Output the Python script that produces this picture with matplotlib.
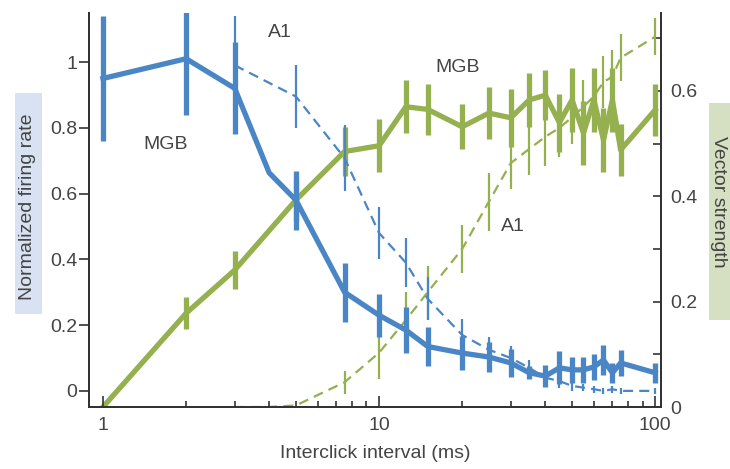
import numpy as np
import matplotlib
matplotlib.use("Agg")
import matplotlib.pyplot as plt
from matplotlib.patches import Rectangle
from matplotlib.ticker import FixedLocator, NullFormatter

# interclick interval (ms)
x_mgb_rate = [1, 2, 3, 4, 5, 7.5, 10, 12.5, 15, 20, 25, 30, 35, 40, 45, 50, 55, 60, 65, 70, 75, 100]
mgb_rate = [0.95, 1.01, 0.92, 0.663, 0.58, 0.30, 0.23, 0.185, 0.135, 0.115, 0.103, 0.085, 0.055,
            0.045, 0.07, 0.064, 0.064, 0.073, 0.094, 0.055, 0.085, 0.055]
mgb_rate_err = [0.19, 0.17, 0.14, 0.0, 0.09, 0.09, 0.065, 0.07, 0.058, 0.053, 0.045, 0.043, 0.02,
                0.033, 0.05, 0.04, 0.04, 0.04, 0.046, 0.03, 0.04, 0.03]

x_a1_rate = [3, 5, 7.5, 10, 12.5, 15, 20, 25, 30, 35, 40, 45, 50, 55, 60, 65, 70, 75, 100]
a1_rate = [0.99, 0.895, 0.708, 0.48, 0.39, 0.28, 0.17, 0.125, 0.10, 0.07, 0.04, 0.03, 0.015,
           0.01, 0.005, 0.0, 0.005, 0.0, 0.0]
a1_rate_err = [0.15, 0.095, 0.1, 0.08, 0.075, 0.065, 0.05, 0.04, 0.035, 0.025, 0.02, 0.02, 0.015,
               0.01, 0.01, 0.01, 0.01, 0.01, 0.01]

x_mgb_vs = [1, 2, 3, 5, 7.5, 10, 12.5, 15, 20, 25, 30, 35, 40, 45, 50, 55, 60, 65, 70, 75, 100]
mgb_vs = [0.0, 0.178, 0.26, 0.393, 0.485, 0.496, 0.57, 0.565, 0.532, 0.558, 0.549, 0.583, 0.592,
          0.54, 0.583, 0.52, 0.583, 0.507, 0.583, 0.488, 0.564]
mgb_vs_err = [0.0, 0.03, 0.036, 0.04, 0.046, 0.05, 0.05, 0.048, 0.043, 0.05, 0.055, 0.052, 0.048,
              0.055, 0.06, 0.06, 0.06, 0.06, 0.06, 0.05, 0.05]

x_a1_vs = [3, 4, 5, 7.5, 10, 12.5, 15, 20, 25, 30, 35, 40, 45, 50, 55, 60, 65, 70, 75, 100]
a1_vs = [0.0, 0.0, 0.003, 0.047, 0.103, 0.165, 0.218, 0.30, 0.39, 0.463, 0.49, 0.513, 0.53,
         0.55, 0.57, 0.59, 0.617, 0.627, 0.663, 0.703]
a1_vs_err = [0.0, 0.0, 0.0, 0.022, 0.05, 0.053, 0.05, 0.045, 0.055, 0.05, 0.05, 0.055, 0.055,
             0.05, 0.05, 0.05, 0.05, 0.05, 0.045, 0.035]

BLUE = "#4a86c6"
GREEN = "#95b04f"
TXT = "#444444"

plt.rcParams["font.family"] = ["Liberation Sans", "DejaVu Sans"]
plt.rcParams["font.size"] = 14

W, H = 730, 469
fig = plt.figure(figsize=(W / 100, H / 100), dpi=100)
ax = fig.add_axes([89 / W, 1 - 407 / H, (661 - 89) / W, (407 - 13) / H])
ax2 = ax.twinx()

# vector strength (green) on right axis, drawn below
ax2.errorbar(x_a1_vs, a1_vs, yerr=a1_vs_err, color=GREEN, lw=1.6, ls=(0, (4.5, 2.8)),
             elinewidth=1.6, capsize=0)
ax2.errorbar(x_mgb_vs, mgb_vs, yerr=mgb_vs_err, color=GREEN, lw=3.8, elinewidth=3.8,
             capsize=0)
ax2.set_zorder(1)
ax.set_zorder(2)
ax.patch.set_visible(False)

ax.errorbar(x_a1_rate, a1_rate, yerr=a1_rate_err, color=BLUE, lw=1.6, ls=(0, (4.5, 2.8)),
            elinewidth=1.6, capsize=0)
ax.errorbar(x_mgb_rate, mgb_rate, yerr=mgb_rate_err, color=BLUE, lw=3.8, elinewidth=3.8,
            capsize=0)

ax.set_xscale("log")
ax.set_xlim(0.89, 105)
ax.set_ylim(-0.049, 1.149)
ax2.set_ylim(0, 0.748)

ax.set_xticks([1, 10, 100])
ax.set_xticklabels(["1", "10", "100"])
ax.xaxis.set_minor_locator(FixedLocator([2, 3, 4, 5, 6, 7, 8, 9, 20, 30, 40, 50, 60, 70, 80, 90]))
ax.xaxis.set_minor_formatter(NullFormatter())
ax.tick_params(axis="x", which="major", direction="in", length=8, width=1.2, pad=7, colors="#333", labelcolor=TXT)
ax.tick_params(axis="x", which="minor", direction="in", length=4.5, width=1.2, colors="#333")

ax.set_yticks([0, 0.2, 0.4, 0.6, 0.8, 1.0])
ax.set_yticklabels(["0", "0.2", "0.4", "0.6", "0.8", "1"])
ax.tick_params(axis="y", direction="out", length=7, width=1.2, pad=1.5, colors="#333", labelcolor=TXT)

ax2.set_yticks([0, 0.2, 0.4, 0.6])
ax2.set_yticklabels(["0", "0.2", "0.4", "0.6"])
ax2.yaxis.set_minor_locator(FixedLocator([0.1, 0.3, 0.5, 0.7]))
ax2.tick_params(axis="y", which="both", direction="in", length=6, width=1.2, pad=7,
                colors="#333", labelcolor=TXT)

for a in (ax, ax2):
    a.spines["top"].set_visible(False)
    for s in ("left", "right", "bottom"):
        a.spines[s].set_color("#333")
        a.spines[s].set_linewidth(1.4)

ax.set_xlabel("Interclick interval (ms)", color=TXT, labelpad=8)

# coloured boxes behind the axis titles
fig.patches.append(Rectangle((15 / W, 1 - 314 / H), 27 / W, 221 / H, transform=fig.transFigure,
                             facecolor="#d9e2f3", edgecolor="none", zorder=0))
fig.patches.append(Rectangle((709 / W, 1 - 320 / H), 25 / W, 217 / H, transform=fig.transFigure,
                             facecolor="#d5dfc2", edgecolor="none", zorder=0))
fig.text(28 / W, 1 - 207 / H, "Normalized firing rate", rotation=90, ha="center", va="center",
         color=TXT)
fig.text(719 / W, 1 - 202 / H, "Vector strength", rotation=270, ha="center", va="center",
         color=TXT)

# series labels
ax.text(4.38, 1.09, "A1", color=TXT, ha="center", va="center")
ax.text(1.69, 0.748, "MGB", color=TXT, ha="center", va="center")
ax.text(19.3, 0.982, "MGB", color=TXT, ha="center", va="center")
ax.text(30.6, 0.50, "A1", color=TXT, ha="center", va="center")

fig.savefig("out.png", dpi=100)
